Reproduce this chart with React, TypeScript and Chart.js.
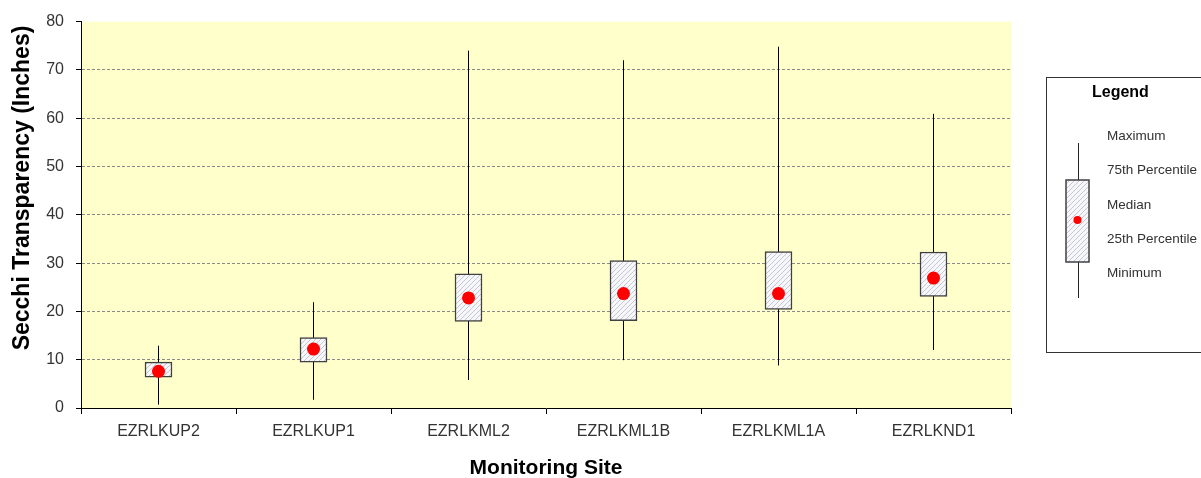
import React, { useEffect, useRef } from "react";
import { Chart, registerables } from "chart.js";

Chart.register(...registerables);

const sites = ["EZRLKUP2", "EZRLKUP1", "EZRLKML2", "EZRLKML1B", "EZRLKML1A", "EZRLKND1"];
const minimum = [0.7, 1.7, 5.8, 9.9, 8.8, 12.0];
const q1 = [6.4, 9.5, 17.9, 18.1, 20.4, 23.1];
const median = [7.6, 12.2, 22.8, 23.7, 23.7, 26.9];
const q3 = [9.5, 14.6, 27.8, 30.5, 32.4, 32.3];
const maximum = [12.9, 21.9, 74.0, 72.0, 74.8, 60.9];
const yMin = 0;
const yMax = 80;
const yStep = 10;
const legendTitle = "Legend";
const legendLabels = ["Maximum", "75th Percentile", "Median", "25th Percentile", "Minimum"];
const xTitle = "Monitoring Site";
const yTitle = "Secchi Transparency (Inches)";

const FONT = "'Liberation Sans', Arial, sans-serif";

function makeHatch(ctx: CanvasRenderingContext2D): CanvasPattern | string {
  const c = document.createElement("canvas");
  const s = 5;
  c.width = s;
  c.height = s;
  const g = c.getContext("2d");
  if (!g) return "#eeeeee";
  g.fillStyle = "#f6f7fc";
  g.fillRect(0, 0, s, s);
  g.strokeStyle = "#c6c6cc";
  g.lineWidth = 1;
  g.beginPath();
  g.moveTo(-1, s + 1);
  g.lineTo(s + 1, -1);
  g.moveTo(-1, 1);
  g.lineTo(1, -1);
  g.moveTo(s - 1, s + 1);
  g.lineTo(s + 1, s - 1);
  g.stroke();
  return ctx.createPattern(c, "repeat") || "#eeeeee";
}

export default function App() {
  const ref = useRef<HTMLCanvasElement | null>(null);

  useEffect(() => {
    const canvas = ref.current;
    if (!canvas) return;
    const ctx = canvas.getContext("2d");
    if (!ctx) return;
    const hatch = makeHatch(ctx);

    const bgPlugin = {
      id: "plotBg",
      beforeDraw(chart: any) {
        const { ctx: c, chartArea: a } = chart;
        c.save();
        c.fillStyle = "#ffffff";
        c.fillRect(0, 0, chart.width, chart.height);
        c.fillStyle = "#FFFFCC";
        c.fillRect(a.left, a.top, a.right - a.left, a.bottom - a.top);
        c.restore();
      },
    };

    const whiskerPlugin = {
      id: "whiskers",
      beforeDatasetsDraw(chart: any) {
        const c = chart.ctx as CanvasRenderingContext2D;
        const xs = chart.scales.x;
        const ys = chart.scales.y;
        c.save();
        c.strokeStyle = "#000000";
        c.lineWidth = 1;
        c.beginPath();
        sites.forEach((_, i) => {
          const x = Math.floor(xs.getPixelForValue(i)) + 0.5;
          c.moveTo(x, ys.getPixelForValue(minimum[i]));
          c.lineTo(x, ys.getPixelForValue(maximum[i]));
        });
        c.stroke();
        c.restore();
      },
    };

    const yTitlePlugin = {
      id: "yTitle",
      afterDraw(chart: any) {
        const c = chart.ctx as CanvasRenderingContext2D;
        c.save();
        c.translate(23, 188);
        c.rotate(-Math.PI / 2);
        c.fillStyle = "#000000";
        c.font = `bold 23px ${FONT}`;
        c.textAlign = "center";
        c.textBaseline = "middle";
        c.fillText(yTitle, 0, 0);
        c.restore();
      },
    };

    const legendPlugin = {
      id: "boxLegend",
      afterDraw(chart: any) {
        const c = chart.ctx as CanvasRenderingContext2D;
        c.save();
        c.strokeStyle = "#333333";
        c.lineWidth = 1;
        c.strokeRect(1046.5, 77.5, 170, 275);
        c.fillStyle = "#000000";
        c.font = `bold 16px ${FONT}`;
        c.textAlign = "left";
        c.textBaseline = "middle";
        c.fillText(legendTitle, 1092, 93);
        c.font = `13.5px ${FONT}`;
        c.fillStyle = "#333333";
        const ys = [136, 170, 205, 239, 273];
        legendLabels.forEach((t, i) => c.fillText(t, 1107, ys[i]));
        c.strokeStyle = "#222222";
        c.beginPath();
        c.moveTo(1078.5, 143);
        c.lineTo(1078.5, 298);
        c.stroke();
        c.fillStyle = hatch as any;
        c.fillRect(1066, 180, 23, 82);
        c.strokeStyle = "#404040";
        c.lineWidth = 1.5;
        c.strokeRect(1066, 180, 23, 82);
        c.fillStyle = "#ff0000";
        c.beginPath();
        c.arc(1077.5, 220, 4, 0, Math.PI * 2);
        c.fill();
        c.restore();
      },
    };

    const chart = new Chart(ctx, {
      type: "bar",
      data: {
        labels: sites,
        datasets: [
          {
            type: "line",
            label: "Median",
            data: median,
            showLine: false,
            pointRadius: 6.5,
            pointHoverRadius: 6.5,
            pointBackgroundColor: "#ff0000",
            pointBorderWidth: 0,
            borderColor: "#ff0000",
            order: 0,
          } as any,
          {
            type: "bar",
            label: "Box",
            data: q1.map((v, i) => [v, q3[i]]),
            backgroundColor: hatch as any,
            borderColor: "#404040",
            borderWidth: 1.5,
            borderSkipped: false,
            barThickness: 27,
            grouped: false,
            order: 1,
          } as any,
        ],
      },
      options: {
        responsive: false,
        animation: false,
        devicePixelRatio: 1,
        layout: { padding: { top: 20, right: 190, left: 0, bottom: 0 } },
        plugins: {
          legend: { display: false },
          tooltip: { enabled: false },
        },
        scales: {
          x: {
            type: "category",
            offset: true,
            grid: {
              display: true,
              offset: true,
              drawOnChartArea: false,
              drawTicks: true,
              tickLength: 6,
              color: "#000000",
            },
            border: { display: true, color: "#000000", width: 1 },
            ticks: {
              color: "#333333",
              font: { family: FONT, size: 16 },
              padding: 8,
              maxRotation: 0,
              autoSkip: false,
            },
            title: {
              display: true,
              text: xTitle,
              color: "#000000",
              font: { family: FONT, size: 21, weight: "bold", lineHeight: 0.9 },
              padding: { top: 0, bottom: 0 },
            },
            afterFit(scale: any) {
              scale.height = 70;
            },
          },
          y: {
            min: yMin,
            max: yMax,
            ticks: {
              stepSize: yStep,
              color: "#333333",
              font: { family: FONT, size: 16 },
              padding: 12,
            },
            grid: {
              drawTicks: true,
              tickLength: 5,
              tickColor: "#000000",
              lineWidth: 1,
              color: (c: any) =>
                c.tick && (c.tick.value === yMax || c.tick.value === yMin) ? "rgba(0,0,0,0)" : "#8a8a8a",
            },
            border: { display: true, color: "#000000", width: 1, dash: [3, 2] },
            title: { display: false },
            afterFit(scale: any) {
              scale.width = 81;
            },
          },
        },
      },
      plugins: [bgPlugin, whiskerPlugin, yTitlePlugin, legendPlugin],
    });

    return () => chart.destroy();
  }, []);

  return (
    <div style={{ position: "absolute", left: 0, top: 0, width: 1201, height: 478, background: "#fff" }}>
      <canvas ref={ref} width={1201} height={478} style={{ display: "block", width: 1201, height: 478 }} />
    </div>
  );
}
